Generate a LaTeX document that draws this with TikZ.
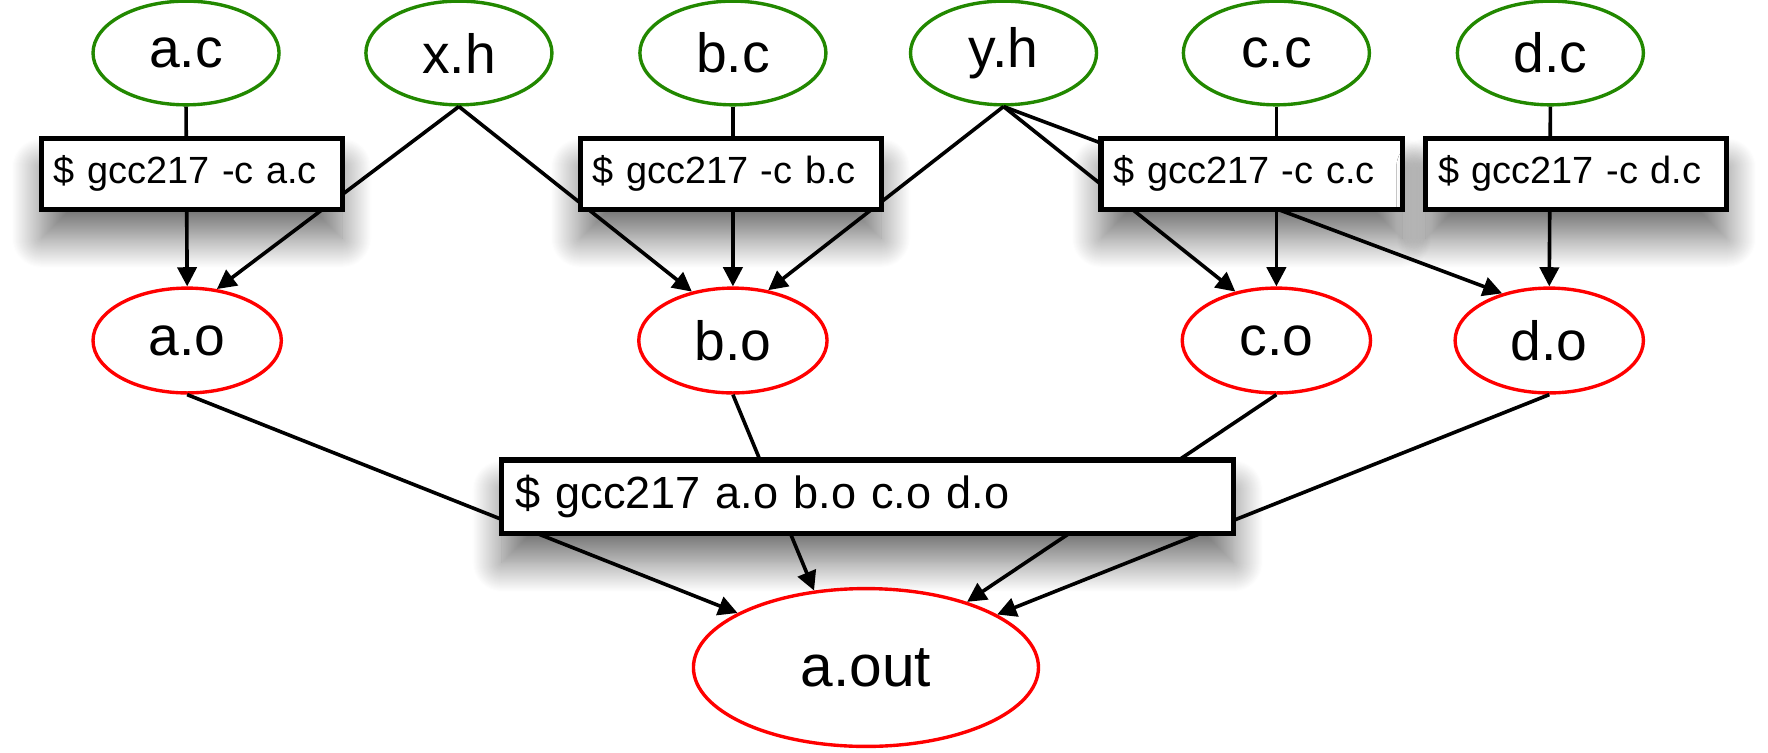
\documentclass[tikz,border=0pt]{standalone}
\usepackage{fontspec}
\setmainfont{Liberation Sans}
\usetikzlibrary{arrows.meta,shapes.geometric,shadows.blur}
\definecolor{srcgreen}{RGB}{34,136,0}

\begin{document}
\begin{tikzpicture}[x=0.5pt,y=-0.5pt,
		src/.style={ellipse,draw=srcgreen,line width=1.5pt,minimum width=82.5pt,minimum height=46pt,inner sep=0pt,font=\fontsize{24.5}{28}\selectfont},
		obj/.style={ellipse,draw=red,line width=1.5pt,minimum width=83.5pt,minimum height=46.5pt,inner sep=0pt,font=\fontsize{24.5}{28}\selectfont},
		cmd/.style={draw,fill=white,line width=2.3pt,minimum height=31.5pt,inner xsep=5.5pt,text width=122.5pt,align=left,font=\fontsize{16.8}{20}\selectfont,
			blur shadow={shadow xshift=0pt,shadow yshift=-13pt,shadow blur radius=13pt,shadow blur steps=30,shadow opacity=55}},
		dep/.style={line width=1.6pt},
		>={Triangle[length=8.5pt,width=8.5pt]}]
				\useasboundingbox (0,0) rectangle (1568,667);

				\node[src] (ac) at (165, 47) {a.c};
				\node[src] (xh) at (407, 47) {x.h};
				\node[src] (bc) at (650, 47) {b.c};
				\node[src] (yh) at (890, 47) {y.h};
				\node[src] (cc) at (1132, 47) {c.c};
				\node[src] (dc) at (1375, 47) {d.c};

				\node[obj] (ao) at (166, 302) {a.o};
				\node[obj] (bo) at (650, 302) {b.o};
				\node[obj] (co) at (1132, 302) {c.o};
				\node[obj] (do) at (1374, 302) {d.o};
				\node[obj,minimum width=153pt,minimum height=70pt,font=\fontsize{26}{30}\selectfont] (aout) at (768, 592) {a.out};

				\draw[dep,->] (ac.south) to (ao.north);
				\draw[dep,->] (xh.south) to (ao.60);
				\draw[dep,->] (xh.south) to (bo.130);
				\draw[dep,->] (bc.south) to (bo.north);
				\draw[dep,->] (yh.south) to (bo.55);
				\draw[dep,->] (yh.south) to (co.130);
				\draw[dep,->] (yh.south) to (do.135);
				\draw[dep,->] (cc.south) to (co.north);
				\draw[dep,->] (dc.south) to (do.north);

				\draw[dep,->] (ao.south) to (aout.157);
				\draw[dep,->] (bo.south) to (aout.124);
				\draw[dep,->] (co.south) to (aout.33);
				\draw[dep,->] (do.south) to (aout.22);

				\node[cmd] (cca) at (170, 154) {\$ gcc217 -c a.c};
				\node[cmd] (ccb) at (648, 154) {\$ gcc217 -c b.c};
				\node[cmd] (ccc) at (1110, 154) {\$ gcc217 -c c.c};
				\node[cmd] (ccd) at (1398, 154) {\$ gcc217 -c d.c};
				\node[cmd,text width=312.5pt,inner xsep=6pt,minimum height=32.5pt,font=\fontsize{20}{24}\selectfont] (link) at (769.5, 440.5) {\$ gcc217 a.o b.o c.o d.o};

			\end{tikzpicture}
\end{document}
